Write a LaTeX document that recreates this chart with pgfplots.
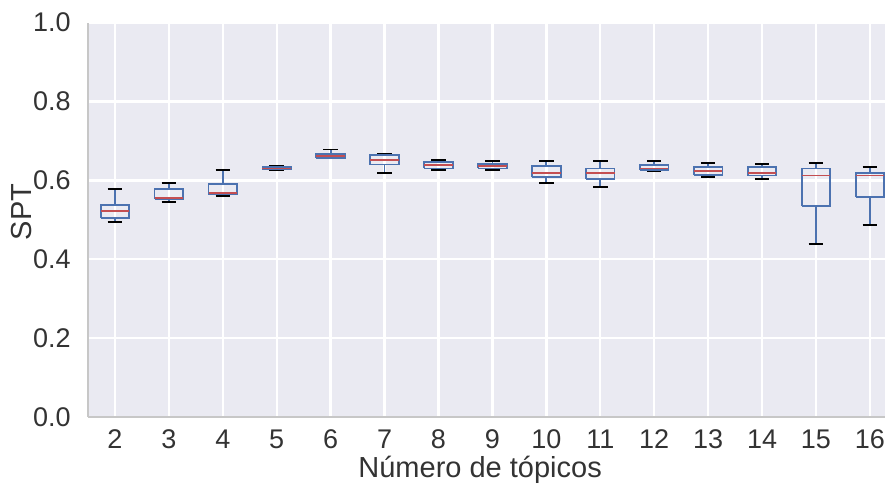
\documentclass[border=0pt]{standalone}
\usepackage{pgfplots}
\pgfplotsset{compat=1.18}
\usepackage{fontspec}
\setmainfont{Liberation Sans}
\definecolor{bg}{HTML}{EAEAF2}
\definecolor{boxblue}{HTML}{4C72B0}
\definecolor{medred}{HTML}{C44E52}
\definecolor{txt}{HTML}{333333}

% One box: position, lower whisker, Q1, median, Q3, upper whisker.
% Box half-width 0.265, cap half-width 0.135 (in x units).
\newcommand{\sptbox}[6]{%
  \pgfmathsetmacro{\bl}{#1-0.265}\pgfmathsetmacro{\br}{#1+0.265}%
  \pgfmathsetmacro{\cl}{#1-0.135}\pgfmathsetmacro{\cr}{#1+0.135}%
  \addplot[boxblue, line width=0.9pt] coordinates {(#1,#2) (#1,#3)};
  \addplot[boxblue, line width=0.9pt] coordinates {(#1,#5) (#1,#6)};
  \addplot[black, line width=0.9pt] coordinates {(\cl,#2) (\cr,#2)};
  \addplot[black, line width=0.9pt] coordinates {(\cl,#6) (\cr,#6)};
  \addplot[boxblue, line width=0.9pt, line join=miter]
    coordinates {(\bl,#3) (\br,#3) (\br,#5) (\bl,#5) (\bl,#3)};
  \addplot[medred, line width=0.9pt] coordinates {(\bl,#4) (\br,#4)};
}

\begin{document}
\begin{tikzpicture}
\useasboundingbox (-44pt,-33pt) rectangle (398.5pt,208.5pt);
\begin{axis}[
  at={(0,0)}, anchor=south west,
  scale only axis, width=398.5pt, height=197.25pt,
  xmin=1.5, xmax=16.28, ymin=0, ymax=1,
  axis background/.style={fill=bg},
  axis line style={draw=black!22, line width=0.6pt},
  axis x line*=bottom, axis y line*=left,
  grid=major, major grid style={white, line width=1.2pt},
  xtick={2,3,4,5,6,7,8,9,10,11,12,13,14,15,16},
  xticklabels={2,3,4,5,6,7,8,9,10,11,12,13,14,15,16},
  ytick={0,0.2,0.4,0.6,0.8,1.0},
  yticklabels={0.0,0.2,0.4,0.6,0.8,1.0},
  major tick length=0pt,
  tick label style={font=\fontsize{13.5}{15}\selectfont, text=txt},
  xticklabel style={anchor=base, yshift=-15.5pt},
  yticklabel style={anchor=east, inner sep=0pt, xshift=-8.5pt},
  xlabel={Número de tópicos},
  ylabel={SPT},
  label style={font=\fontsize{14.5}{16}\selectfont, text=txt},
  xlabel style={at={(axis description cs:0.492,0)}, anchor=base, yshift=-30pt},
  ylabel style={at={(axis description cs:0,0.52)}, anchor=center, yshift=33pt},
  clip=false,
]
\sptbox{2}{0.494}{0.504}{0.523}{0.538}{0.578}
\sptbox{3}{0.546}{0.553}{0.555}{0.578}{0.593}
\sptbox{4}{0.561}{0.564}{0.567}{0.590}{0.626}
\sptbox{5}{0.627}{0.628}{0.630}{0.633}{0.637}
\sptbox{6}{0.656}{0.656}{0.661}{0.667}{0.678}
\sptbox{7}{0.619}{0.640}{0.652}{0.664}{0.667}
\sptbox{8}{0.626}{0.630}{0.639}{0.646}{0.652}
\sptbox{9}{0.626}{0.630}{0.636}{0.641}{0.649}
\sptbox{10}{0.593}{0.608}{0.619}{0.637}{0.649}
\sptbox{11}{0.583}{0.604}{0.619}{0.630}{0.649}
\sptbox{12}{0.623}{0.626}{0.630}{0.638}{0.649}
\sptbox{13}{0.608}{0.614}{0.623}{0.634}{0.644}
\sptbox{14}{0.604}{0.612}{0.619}{0.634}{0.641}
\sptbox{15}{0.438}{0.534}{0.612}{0.630}{0.644}
\sptbox{16}{0.487}{0.557}{0.612}{0.618}{0.634}
\end{axis}
\end{tikzpicture}
\end{document}
